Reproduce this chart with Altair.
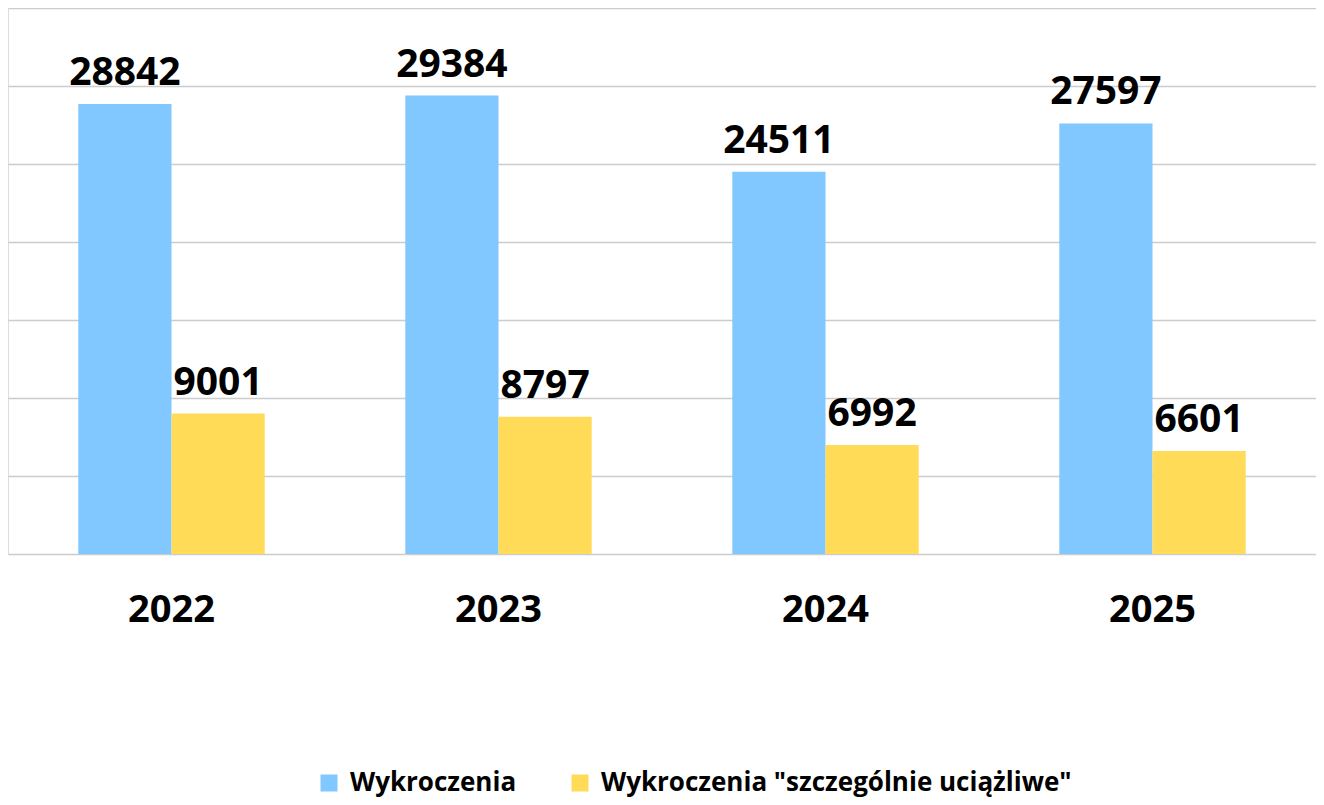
import altair as alt
import pandas as pd

years = ["2022", "2023", "2024", "2025"]
series = ["Wykroczenia", "Wykroczenia \"szczególnie uciążliwe\""]
wykroczenia = [28842, 29384, 24511, 27597]
szczegolnie = [9001, 8797, 6992, 6601]
colors = ["#80C8FF", "#FFDB58"]

rows = []
for i, y in enumerate(years):
    rows.append({"rok": y, "seria": series[0], "wartosc": wykroczenia[i]})
    rows.append({"rok": y, "seria": series[1], "wartosc": szczegolnie[i]})
df = pd.DataFrame(rows)

FONT = "Open Sans"

x = alt.X("rok:N", title=None, sort=years,
          scale=alt.Scale(paddingInner=0.43, paddingOuter=0.215),
          axis=alt.Axis(labelAngle=0, labelFont=FONT, labelFontSize=38,
                        labelFontWeight="bold", labelColor="#000000",
                        labelPadding=37, ticks=False, domain=False, grid=False))
y = alt.Y("wartosc:Q", title=None,
          scale=alt.Scale(domain=[0, 35000], nice=False),
          axis=alt.Axis(values=[0, 5000, 10000, 15000, 20000, 25000, 30000, 35000],
                        labels=False, ticks=False, domain=False,
                        gridColor="#CCCCCC", gridWidth=1.5))
xo = alt.XOffset("seria:N", sort=series)
color = alt.Color("seria:N", sort=series,
                  scale=alt.Scale(domain=series, range=colors),
                  legend=alt.Legend(title=None, orient="none", direction="horizontal",
                                    legendX=308, legendY=762,
                                    symbolType="square", symbolSize=289,
                                    symbolStrokeWidth=0, symbolOpacity=1,
                                    labelFont=FONT, labelFontSize=26,
                                    labelFontWeight="bold", labelColor="#000000",
                                    labelOffset=8, columnPadding=50,
                                    labelLimit=700))

bars = alt.Chart(df).mark_bar(opacity=1).encode(x=x, y=y, xOffset=xo, color=color)
labels = alt.Chart(df).mark_text(font=FONT, fontSize=39, fontWeight="bold",
                                 color="#000000", baseline="alphabetic",
                                 dy=-19).encode(
    x=x, y=y, xOffset=xo, text=alt.Text("wartosc:Q", format="d"))

chart = (bars + labels).properties(
    width=1308, height=546,
    padding={"left": 0, "top": 0, "right": 0, "bottom": 6},
).configure_view(stroke="#C8C8C8", strokeWidth=2).configure(background="#FFFFFF")

chart.save("out.html", embed_options={"renderer": "svg", "actions": False})
